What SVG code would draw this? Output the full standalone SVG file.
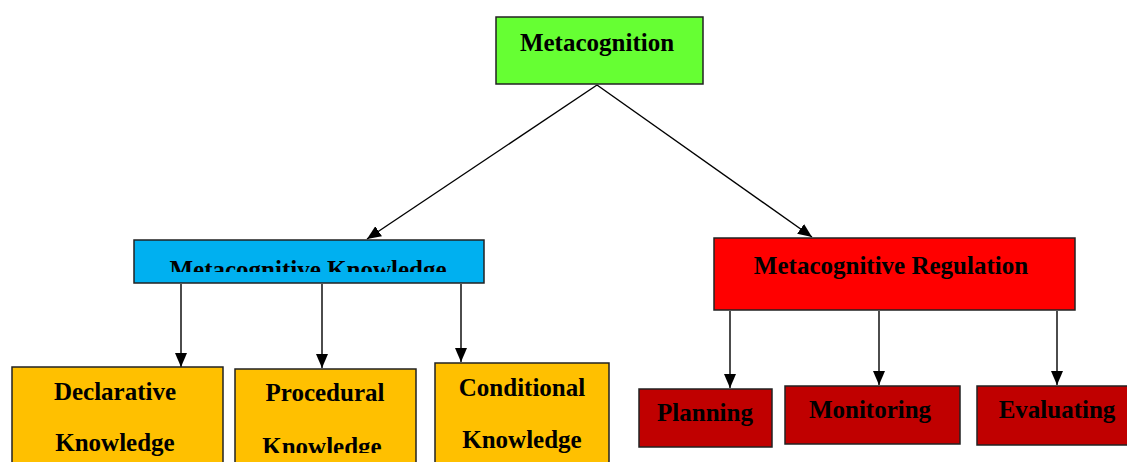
<svg xmlns="http://www.w3.org/2000/svg" width="1127" height="462" viewBox="0 0 1127 462">
<style>
.box{stroke:#222;stroke-width:1.5}
.t{font-family:"Liberation Serif","Times New Roman",serif;font-weight:bold;font-size:25px;fill:#000;text-anchor:middle}
.c{stroke:#000;stroke-width:1.4;fill:none;marker-end:url(#ah)}
</style>
<defs>
<marker id="ah" viewBox="0 0 14 12" refX="14" refY="6" markerWidth="14" markerHeight="12" markerUnits="userSpaceOnUse" orient="auto">
<path d="M0,0 L14,6 L0,12 Z" fill="#000"/>
</marker>
<clipPath id="mkclip"><rect x="134" y="240" width="350" height="32"/></clipPath>
<clipPath id="prclip"><rect x="235" y="369" width="182" height="84"/></clipPath>
</defs>
<rect width="1127" height="462" fill="#fff"/>
<g id="connectors">
<line class="c" x1="597" y1="85" x2="367" y2="239"/>
<line class="c" x1="597" y1="85" x2="812" y2="237"/>
<line class="c" x1="181" y1="284" x2="181" y2="367"/>
<line class="c" x1="322" y1="284" x2="322" y2="368"/>
<line class="c" x1="461" y1="284" x2="461" y2="362"/>
<line class="c" x1="730" y1="311" x2="730" y2="388"/>
<line class="c" x1="879" y1="311" x2="879" y2="385"/>
<line class="c" x1="1057" y1="311" x2="1057" y2="385"/>
</g>
<g id="metacognition">
<rect class="box" x="496" y="17" width="207" height="67" fill="#66ff33"/>
<text class="t" x="597" y="51">Metacognition</text>
</g>
<g id="metacognitive-knowledge">
<rect class="box" x="134" y="240" width="350" height="43" fill="#00b0f0"/>
<text class="t" x="308" y="278" clip-path="url(#mkclip)">Metacognitive Knowledge</text>
</g>
<g id="metacognitive-regulation">
<rect class="box" x="714" y="238" width="361" height="72" fill="#ff0000"/>
<text class="t" x="891" y="274">Metacognitive Regulation</text>
</g>
<g id="declarative">
<rect class="box" x="12" y="367" width="211" height="100" fill="#ffc000"/>
<text class="t" x="115" y="400">Declarative</text>
<text class="t" x="115" y="451">Knowledge</text>
</g>
<g id="procedural">
<rect class="box" x="235" y="369" width="181" height="100" fill="#ffc000"/>
<text class="t" x="325" y="401">Procedural</text>
<text class="t" x="322" y="455" clip-path="url(#prclip)">Knowledge</text>
</g>
<g id="conditional">
<rect class="box" x="435" y="363" width="174" height="104" fill="#ffc000"/>
<text class="t" x="522" y="396">Conditional</text>
<text class="t" x="522" y="448">Knowledge</text>
</g>
<g id="planning">
<rect class="box" x="639" y="389" width="133" height="58" fill="#c00000"/>
<text class="t" x="705" y="421">Planning</text>
</g>
<g id="monitoring">
<rect class="box" x="785" y="386" width="175" height="58" fill="#c00000"/>
<text class="t" x="870" y="418">Monitoring</text>
</g>
<g id="evaluating">
<rect class="box" x="977" y="386" width="160" height="59" fill="#c00000"/>
<text class="t" x="1057" y="418">Evaluating</text>
</g>
</svg>
